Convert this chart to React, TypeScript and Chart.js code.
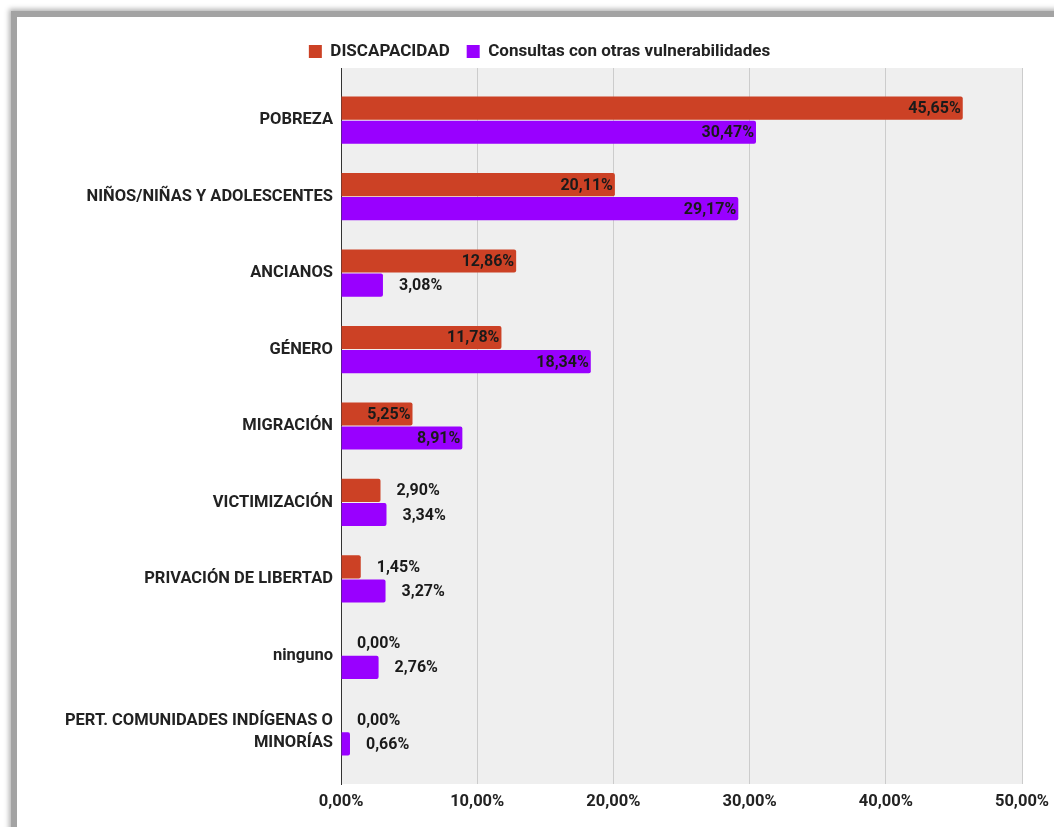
import React, { useEffect, useRef } from "react";
import { Chart, registerables } from "chart.js";

Chart.register(...registerables);

const categories: (string | string[])[] = [
  "POBREZA",
  "NIÑOS/NIÑAS Y ADOLESCENTES",
  "ANCIANOS",
  "GÉNERO",
  "MIGRACIÓN",
  "VICTIMIZACIÓN",
  "PRIVACIÓN DE LIBERTAD",
  "ninguno",
  ["PERT. COMUNIDADES INDÍGENAS O", "MINORÍAS"],
];

const discapacidad = [45.65, 20.11, 12.86, 11.78, 5.25, 2.9, 1.45, 0.0, 0.0];
const otras = [30.47, 29.17, 3.08, 18.34, 8.91, 3.34, 3.27, 2.76, 0.66];

const seriesNames = ["DISCAPACIDAD", "Consultas con otras vulnerabilidades"];
const xTicks = [0, 10, 20, 30, 40, 50];

const fmt = (v: number) => v.toFixed(2).replace(".", ",") + "%";

const FONT = "Roboto";

const bgPlugin = {
  id: "plotBg",
  afterLayout(chart: any) {
    const lg = chart.legend;
    if (lg) {
      lg.left += 20;
      lg.right += 20;
      lg.top += 2;
      lg.bottom += 2;
      if (lg.adjustHitBoxes) lg.adjustHitBoxes();
    }
  },
  beforeDraw(chart: any) {
    const { ctx, chartArea } = chart;
    ctx.save();
    ctx.fillStyle = "#efefef";
    ctx.fillRect(chartArea.left, chartArea.top, chartArea.right - chartArea.left, chartArea.bottom - chartArea.top);
    ctx.restore();
  },
};

const labelPlugin = {
  id: "barLabels",
  afterDatasetsDraw(chart: any) {
    const { ctx } = chart;
    ctx.save();
    ctx.font = `bold 16px ${FONT}`;
    ctx.fillStyle = "#1a1a1a";
    ctx.textBaseline = "middle";
    chart.data.datasets.forEach((ds: any, di: number) => {
      const meta = chart.getDatasetMeta(di);
      meta.data.forEach((bar: any, i: number) => {
        const v = ds.data[i] as number;
        const text = fmt(v);
        const w = ctx.measureText(text).width;
        const barW = bar.x - bar.base;
        if (w + 8 <= barW) {
          ctx.textAlign = "right";
          ctx.fillText(text, bar.x - 2, bar.y + 1);
        } else {
          ctx.textAlign = "left";
          ctx.fillText(text, bar.x + 16, bar.y + 1);
        }
      });
    });
    ctx.restore();
  },
};

export default function App() {
  const ref = useRef<HTMLCanvasElement | null>(null);

  useEffect(() => {
    document.body.style.margin = "0";
    const canvas = ref.current;
    if (!canvas) return;
    const chart = new Chart(canvas, {
      type: "bar",
      data: {
        labels: categories as any,
        datasets: [
          {
            label: seriesNames[0],
            data: discapacidad,
            backgroundColor: "#cc4125",
            borderRadius: 2,
            borderSkipped: "start",
            categoryPercentage: 0.63,
            barPercentage: 0.96,
          },
          {
            label: seriesNames[1],
            data: otras,
            backgroundColor: "#9900ff",
            borderRadius: 2,
            borderSkipped: "start",
            categoryPercentage: 0.63,
            barPercentage: 0.96,
          },
        ],
      },
      options: {
        indexAxis: "y",
        animation: false,
        responsive: false,
        maintainAspectRatio: false,
        layout: { padding: { left: 0, right: 32, top: 7, bottom: 0 } },
        plugins: {
          legend: {
            display: true,
            position: "top",
            labels: {
              boxWidth: 13,
              boxHeight: 13,
              padding: 17,
              color: "#222",
              font: { family: FONT, size: 17, weight: "bold" },
            },
          },
          tooltip: { enabled: false },
        },
        scales: {
          x: {
            type: "linear",
            min: 0,
            max: 50,
            afterBuildTicks: (scale: any) => {
              scale.ticks = xTicks.map((v) => ({ value: v }));
            },
            afterFit: (scale: any) => {
              scale.height = 43;
              scale.paddingRight = 0;
              scale.paddingLeft = 0;
            },
            grid: { color: "#cccccc", lineWidth: 1, drawTicks: false, tickLength: 0 },
            border: { display: false },
            ticks: {
              padding: 8,
              color: "#222",
              font: { family: FONT, size: 16.5, weight: "bold" },
              callback: (v: any) => fmt(Number(v)),
            },
          },
          y: {
            type: "category",
            afterBuildTicks: (scale: any) => {
              const extra = 0.182;
              scale._startValue = -0.5 - extra;
              scale._valueRange = categories.length + 2 * extra;
            },
            afterFit: (scale: any) => {
              scale.width = 324;
            },
            grid: { display: false, drawTicks: false },
            border: { display: true, color: "#333333", width: 1 },
            ticks: {
              padding: 8,
              color: "#222",
              font: { family: FONT, size: 16.5, weight: "bold", lineHeight: 1.3 },
            },
          },
        },
      },
      plugins: [bgPlugin, labelPlugin],
    });
    return () => chart.destroy();
  }, []);

  return (
    <div style={{ position: "absolute", left: 0, top: 0, width: 1054, height: 827, overflow: "hidden", background: "#fff" }}>
      <div
        style={{
          position: "absolute",
          left: 11,
          top: 11,
          width: 1100,
          height: 900,
          borderLeft: "6px solid #a3a3a3",
          borderTop: "6px solid #a3a3a3",
          boxShadow: "0 0 5px 2px rgba(0,0,0,0.3)",
          background: "#fff",
        }}
      />
      <canvas
        ref={ref}
        width={1037}
        height={810}
        style={{ position: "absolute", left: 17, top: 17, width: 1037, height: 810 }}
      />
    </div>
  );
}
